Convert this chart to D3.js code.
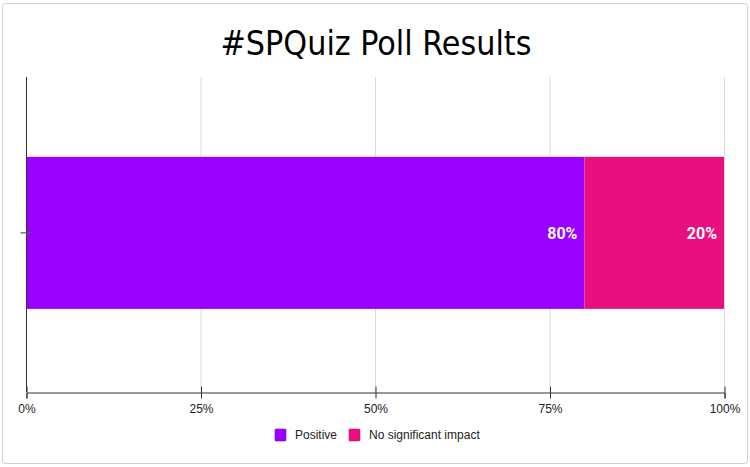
<!DOCTYPE html>
<html>
<head>
<meta charset="utf-8">
<script src="https://cdn.jsdelivr.net/npm/d3@7"></script>
<style>
  body { margin: 0; background: #fff; }
  text { font-family: "Liberation Sans", Arial, sans-serif; }
</style>
</head>
<body>
<div class="poll-plot"></div>
<script>
const width = 750;
const height = 467;

// data
const categories = ['Poll'];
const seriesNames = ['Positive', 'No significant impact'];
const seriesValues = [0.80, 0.20];
const seriesColors = ['#9900ff', '#e8107f'];
const tickValues = [0, 0.25, 0.5, 0.75, 1];

const margin = {top: 77, right: 26, bottom: 75, left: 26};

const svg = d3.select('.poll-plot')
    .append('svg')
    .attr('width', width)
    .attr('height', height)

// outer frame
svg.append('rect')
    .attr('x', 2.5)
    .attr('y', 3.5)
    .attr('width', 745)
    .attr('height', 460)
    .attr('rx', 3)
    .attr('fill', '#fff')
    .attr('stroke', '#cfcfcf')

const title = svg.append('text')
    .attr('x', 376)
    .attr('y', 55)
    .attr('text-anchor', 'middle')
    .attr('font-size', 34)
    .style('font-family', '"DejaVu Sans Condensed", "DejaVu Sans", sans-serif')
    .attr('fill', '#000')
    .text('#SPQuiz Poll Results')
title.attr('textLength', 311).attr('lengthAdjust', 'spacingAndGlyphs')

const x = d3.scaleLinear()
    .domain([0, 1])
    .range([margin.left, width - margin.right])

const y = d3.scaleBand()
    .domain(categories)
    .range([margin.top, height - margin.bottom])
    .paddingInner(0)
    .paddingOuter(0.536)
    .align(0.49)

// gridlines
svg.append('g')
    .selectAll('line')
    .data(tickValues.slice(1))
    .enter()
    .append('line')
    .attr('x1', d => x(d) + 0.5)
    .attr('x2', d => x(d) + 0.5)
    .attr('y1', margin.top)
    .attr('y2', height - margin.bottom)
    .attr('stroke', '#dcdcdc')

// stacked segments
const stack = seriesValues.map((v, i) => ({
    name: seriesNames[i],
    value: v,
    color: seriesColors[i],
    x0: d3.sum(seriesValues.slice(0, i)),
}))

const segs = svg.append('g')
    .selectAll('g')
    .data(stack)
    .enter()
    .append('g')

segs.append('rect')
    .attr('x', d => x(d.x0))
    .attr('y', y(categories[0]))
    .attr('width', d => x(d.x0 + d.value) - x(d.x0))
    .attr('height', y.bandwidth())
    .attr('fill', d => d.color)

segs.append('text')
    .attr('x', d => x(d.x0 + d.value) - 7)
    .attr('y', y(categories[0]) + y.bandwidth() / 2)
    .attr('dy', '0.36em')
    .attr('text-anchor', 'end')
    .attr('font-size', 16)
    .attr('font-weight', 'bold')
    .style('font-family', 'Roboto, sans-serif')
    .attr('fill', '#fff')
    .text(d => d3.format('.0%')(d.value))

// left axis
const yAxis = svg.append('g')
    .attr('transform', `translate(${margin.left + 0.5},0)`)
yAxis.append('line')
    .attr('y1', margin.top)
    .attr('y2', height - margin.bottom)
    .attr('stroke', '#333')
yAxis.append('line')
    .attr('x1', -6)
    .attr('x2', 6)
    .attr('y1', y(categories[0]) + y.bandwidth() / 2)
    .attr('y2', y(categories[0]) + y.bandwidth() / 2)
    .attr('stroke', '#555')
    .attr('stroke-width', 1.2)

// bottom axis
const xAxis = svg.append('g')
    .attr('transform', `translate(0.5,${height - margin.bottom + 0.5})`)
    .call(d3.axisBottom(x).tickValues(tickValues).tickFormat(d3.format('.0%')).tickSize(6))
xAxis.select('.domain').attr('stroke', '#333')
xAxis.selectAll('.tick line')
    .attr('y1', -6)
    .attr('y2', 6)
    .attr('stroke', '#333')
xAxis.selectAll('.tick text')
    .attr('y', 12)
    .attr('font-size', 12)
    .attr('fill', '#222')
    .style('font-family', '"Liberation Sans", Arial, sans-serif')

// legend
const legendX = [275, 349];
const legend = svg.append('g')
    .selectAll('g')
    .data(seriesNames)
    .enter()
    .append('g')
    .attr('transform', (d, i) => `translate(${legendX[i]},429)`)

legend.append('rect')
    .attr('width', 11)
    .attr('height', 12)
    .attr('rx', 1)
    .attr('fill', (d, i) => seriesColors[i])
    .attr('stroke', (d, i) => d3.color(seriesColors[i]).darker(0.4))
    .attr('stroke-width', 0.6)

legend.append('text')
    .attr('x', 20)
    .attr('y', 6)
    .attr('dy', '0.35em')
    .attr('font-size', 12)
    .attr('fill', '#222')
    .text(d => d)
</script>
</body>
</html>
